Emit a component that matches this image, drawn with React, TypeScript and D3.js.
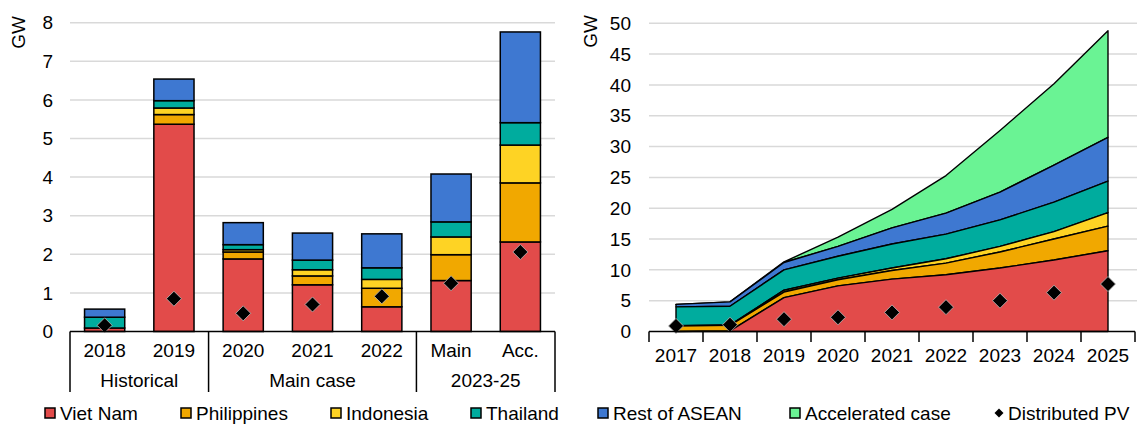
import * as d3 from "d3";

// left panel: annual additions by category
const barCats = ["2018", "2019", "2020", "2021", "2022", "Main", "Acc."];
const barGroups = [
  { label: "Historical", size: 2 },
  { label: "Main case", size: 3 },
  { label: "2023-25", size: 2 },
];
const barVietNam = [0.09, 5.37, 1.88, 1.21, 0.64, 1.32, 2.32];
const barPhilippines = [0, 0.25, 0.18, 0.23, 0.48, 0.67, 1.53];
const barIndonesia = [0, 0.17, 0.06, 0.16, 0.23, 0.46, 0.98];
const barThailand = [0.28, 0.19, 0.13, 0.25, 0.3, 0.39, 0.58];
const barRest = [0.21, 0.56, 0.57, 0.7, 0.88, 1.24, 2.35];
const barPV = [0.16, 0.85, 0.47, 0.7, 0.91, 1.25, 2.06];
const barTicks = [0, 1, 2, 3, 4, 5, 6, 7, 8];

// right panel: cumulative capacity
const years = ["2017", "2018", "2019", "2020", "2021", "2022", "2023", "2024", "2025"];
const cumVietNam = [0, 0.1, 5.5, 7.4, 8.5, 9.2, 10.3, 11.6, 13.1];
const cumPhilippines = [0.9, 0.9, 0.9, 1.0, 1.4, 1.9, 2.6, 3.4, 4.0];
const cumIndonesia = [0.05, 0.05, 0.3, 0.25, 0.4, 0.7, 0.9, 1.2, 2.2];
const cumThailand = [3.05, 3.05, 3.3, 3.55, 3.9, 4.0, 4.3, 4.8, 5.1];
const cumRest = [0.4, 0.7, 1.2, 1.6, 2.6, 3.4, 4.5, 6.0, 7.1];
const cumAccelerated = [0, 0, 0.1, 1.5, 3.0, 6.1, 10.0, 13.2, 17.3];
const cumPV = [0.9, 1.1, 2.0, 2.3, 3.1, 3.95, 5.0, 6.3, 7.7];
const areaTicks = [0, 5, 10, 15, 20, 25, 30, 35, 40, 45, 50];

const seriesNames = ["Viet Nam", "Philippines", "Indonesia", "Thailand", "Rest of ASEAN", "Accelerated case"];
const colors = ["#E24B4A", "#F1A800", "#FED324", "#00AC9E", "#3E78D1", "#6AF394"];

const W = 1140;
const H = 425;
const FONT = "'Liberation Sans', Arial, sans-serif";
const FS = 19;
const GRID = "#D9D9D9";

// legend layout (x of each marker centre)
const legendX = [50, 186, 336, 476, 603, 795, 999];
const legendY = 413;

function diamond(cx: number, cy: number, r: number) {
  return `M${cx},${cy - r}L${cx + r},${cy}L${cx},${cy + r}L${cx - r},${cy}Z`;
}

function LeftChart() {
  const x = d3.scaleBand().domain(barCats).range([70, 555]).paddingInner(0.42).paddingOuter(0.21);
  const y = d3.scaleLinear().domain([0, 8]).range([331.5, 22.7]);
  const rows = barCats.map((c, i) => ({
    cat: c,
    s0: barVietNam[i],
    s1: barPhilippines[i],
    s2: barIndonesia[i],
    s3: barThailand[i],
    s4: barRest[i],
  }));
  const stack = d3.stack<any>().keys(["s0", "s1", "s2", "s3", "s4"])(rows);
  const step = x.step();
  const x0 = 70;
  let acc = 0;
  const seps = [x0];
  barGroups.forEach((g) => {
    acc += g.size;
    seps.push(x0 + acc * step);
  });

  return (
    <g>
      {barTicks.map((t) => (
        <g key={t}>
          {t > 0 && <line x1={70} x2={555} y1={y(t)} y2={y(t)} stroke={GRID} strokeWidth={1.5} />}
          <text x={53} y={y(t)} dy="0.35em" textAnchor="end" fontSize={FS}>
            {t}
          </text>
        </g>
      ))}
      <text transform={`translate(25,${y(7.75)}) rotate(-90)`} textAnchor="middle" fontSize={FS}>
        GW
      </text>
      {stack.map((layer, li) =>
        layer.map((d, i) =>
          d[1] - d[0] > 0 ? (
            <rect
              key={li + "-" + i}
              x={x(barCats[i])}
              width={x.bandwidth()}
              y={y(d[1])}
              height={y(d[0]) - y(d[1])}
              fill={colors[li]}
              stroke="#000"
              strokeWidth={1.5}
            />
          ) : null
        )
      )}
      {barPV.map((v, i) => (
        <path
          key={i}
          d={diamond(x(barCats[i])! + x.bandwidth() / 2, y(v), 7.5)}
          fill="#000"
          stroke="#BBB"
          strokeWidth={0.8}
        />
      ))}
      <line x1={70} x2={555} y1={331.5} y2={331.5} stroke="#000" strokeWidth={1.5} />
      {seps.map((s, i) => (
        <line key={i} x1={s} x2={s} y1={331.5} y2={392} stroke="#000" strokeWidth={1.5} />
      ))}
      {barCats.map((c) => (
        <text key={c} x={x(c)! + x.bandwidth() / 2} y={357} textAnchor="middle" fontSize={FS}>
          {c}
        </text>
      ))}
      {barGroups.map((g, i) => (
        <text key={g.label} x={(seps[i] + seps[i + 1]) / 2} y={386.5} textAnchor="middle" fontSize={FS}>
          {g.label}
        </text>
      ))}
    </g>
  );
}

function RightChart() {
  const x = d3.scaleBand().domain(years).range([649, 1135]);
  const cx = (yr: string) => x(yr)! + x.bandwidth() / 2;
  const y = d3.scaleLinear().domain([0, 50]).range([331.5, 23.3]);
  const rows = years.map((yr, i) => ({
    yr,
    s0: cumVietNam[i],
    s1: cumPhilippines[i],
    s2: cumIndonesia[i],
    s3: cumThailand[i],
    s4: cumRest[i],
    s5: cumAccelerated[i],
  }));
  const stack = d3.stack<any>().keys(["s0", "s1", "s2", "s3", "s4", "s5"])(rows);
  const area = d3
    .area<any>()
    .x((d) => cx(d.data.yr))
    .y0((d) => y(d[0]))
    .y1((d) => y(d[1]));

  return (
    <g>
      {areaTicks.map((t) => (
        <g key={t}>
          {t > 0 && <line x1={649} x2={1137} y1={y(t)} y2={y(t)} stroke={GRID} strokeWidth={1.5} />}
          <text x={631} y={y(t)} dy="0.35em" textAnchor="end" fontSize={FS}>
            {t}
          </text>
        </g>
      ))}
      <text transform={`translate(597,${y(48.7)}) rotate(-90)`} textAnchor="middle" fontSize={FS}>
        GW
      </text>
      {stack
        .slice()
        .reverse()
        .map((layer) => (
          <path
            key={layer.key}
            d={area(layer) ?? ""}
            fill={colors[layer.index]}
            stroke="#000"
            strokeWidth={1.4}
            strokeLinejoin="round"
          />
        ))}
      {cumPV.map((v, i) => (
        <path key={i} d={diamond(cx(years[i]), y(v), 7.5)} fill="#000" stroke="#BBB" strokeWidth={0.8} />
      ))}
      <line x1={649} x2={1135} y1={331.5} y2={331.5} stroke="#000" strokeWidth={1.5} />
      {years.map((yr) => (
        <line key={yr} x1={x(yr)} x2={x(yr)} y1={331.5} y2={342} stroke="#000" strokeWidth={1.5} />
      ))}
      <line x1={1135} x2={1135} y1={331.5} y2={342} stroke="#000" strokeWidth={1.5} />
      {years.map((yr) => (
        <text key={yr} x={cx(yr)} y={362} textAnchor="middle" fontSize={FS}>
          {yr}
        </text>
      ))}
    </g>
  );
}

function Legend() {
  return (
    <g>
      {seriesNames.map((n, i) => (
        <g key={n} transform={`translate(${legendX[i]},${legendY})`}>
          <rect x={-5} y={-5} width={10} height={10} fill={colors[i]} stroke="#000" strokeWidth={1.5} />
          <text x={10} dy="0.35em" fontSize={FS}>
            {n}
          </text>
        </g>
      ))}
      <g transform={`translate(${legendX[6]},${legendY})`}>
        <path d={diamond(0, 0, 4.5)} fill="#000" />
        <text x={9} dy="0.35em" fontSize={FS}>
          Distributed PV
        </text>
      </g>
    </g>
  );
}

export default function App() {
  return (
    <svg
      width={W}
      height={H}
      style={{ position: "absolute", left: 0, top: 0, background: "#fff" }}
      fontFamily={FONT}
      fill="#000"
    >
      <rect width={W} height={H} fill="#fff" />
      <LeftChart />
      <RightChart />
      <Legend />
    </svg>
  );
}
